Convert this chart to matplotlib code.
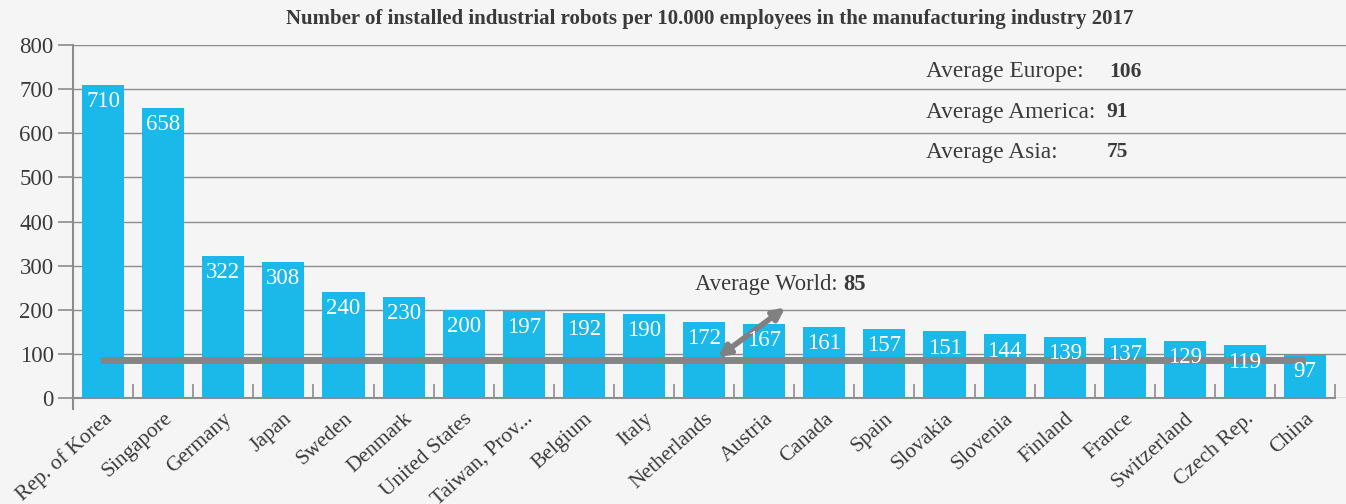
import numpy as np
import matplotlib
matplotlib.use('Agg')
import matplotlib.pyplot as plt

countries = ['Rep. of Korea', 'Singapore', 'Germany', 'Japan', 'Sweden', 'Denmark',
             'United States', 'Taiwan, Prov...', 'Belgium', 'Italy', 'Netherlands',
             'Austria', 'Canada', 'Spain', 'Slovakia', 'Slovenia', 'Finland', 'France',
             'Switzerland', 'Czech Rep.', 'China']
robots = [710, 658, 322, 308, 240, 230, 200, 197, 192, 190, 172, 167, 161, 157,
          151, 144, 139, 137, 129, 119, 97]
avg_world = 85
avg_labels = ['Average Europe:', 'Average America:', 'Average Asia:']
avg_values = [106, 91, 75]

plt.rcParams['font.family'] = ['Liberation Serif', 'DejaVu Serif']
bg = '#f5f5f5'
txt = '#3a3a3a'
bar_col = '#1bb8ea'
grid_col = '#8c8c8c'

W, H = 1346, 504
fig = plt.figure(figsize=(W / 100, H / 100), dpi=100, facecolor=bg)
ax = fig.add_axes([73 / W, (H - 398) / H, (W - 73) / W, (398 - 45) / H])
ax.set_facecolor(bg)

x = np.arange(len(countries))
ax.bar(x, robots, width=0.7, color=bar_col, zorder=2)
ax.set_xlim(-0.5, 20.68)
ax.set_ylim(0, 800)

ax.set_yticks(range(0, 801, 100))
ax.yaxis.grid(True, color=grid_col, lw=1, zorder=0)
ax.tick_params(axis='y', labelsize=16.5, colors=grid_col, labelcolor=txt, length=11, width=1.2, pad=3)

ax.set_xticks(x)
ax.set_xticklabels(countries, rotation=42, ha='right', rotation_mode='anchor',
                   fontsize=15.5, color=txt)
ax.tick_params(axis='x', length=0, pad=8)
ax.set_xticks(np.arange(0.5, 20.6, 1), minor=True)
ax.tick_params(axis='x', which='minor', direction='in', length=10, width=1.2, colors=grid_col)

for s in ['top', 'right']:
    ax.spines[s].set_visible(False)
ax.spines['left'].set_color(grid_col)
ax.spines['left'].set_linewidth(1.5)
ax.spines['bottom'].set_color(grid_col)
ax.spines['bottom'].set_linewidth(1.5)
ax.spines['bottom'].set_bounds(-0.5, 20.5)
# small stub of the y axis below zero
ax.plot([-0.5, -0.5], [0, -25], color=grid_col, lw=1.5, clip_on=False)

for xi, v in zip(x, robots):
    ax.text(xi, v - 14, str(v), ha='center', va='top', color='white', fontsize=16.5, zorder=6)

# average world line
ax.plot([-0.05, 20.0], [avg_world, avg_world], color='#858585', lw=5, zorder=4,
        solid_capstyle='butt')
ax.annotate('', xy=(11.35, 205), xytext=(10.23, 92),
            arrowprops=dict(arrowstyle='<|-|>', color='#808080', lw=4,
                            mutation_scale=17, shrinkA=0, shrinkB=0), zorder=5)
ax.text(12.31, 258, 'Average World: ', ha='right', va='center', fontsize=16.3, color=txt)
ax.text(12.31, 258, str(avg_world), ha='left', va='center', fontsize=16.3,
        color=txt, fontweight='bold')

for i, (lab, val) in enumerate(zip(avg_labels, avg_values)):
    yy = 739 - i * 91
    ax.text(13.69, yy, lab, ha='left', va='center', fontsize=16.8, color=txt)
    ax.text(16.74 if val > 99 else 16.7, yy, str(val), ha='left', va='center',
            fontsize=15.5, color=txt, fontweight='bold')

fig.text(710 / W, 1 - 19 / H,
         'Number of installed industrial robots per 10.000 employees in the manufacturing industry 2017',
         ha='center', va='center', fontsize=15, fontweight='bold', color=txt)

fig.savefig('out.png', dpi=100, facecolor=bg)
